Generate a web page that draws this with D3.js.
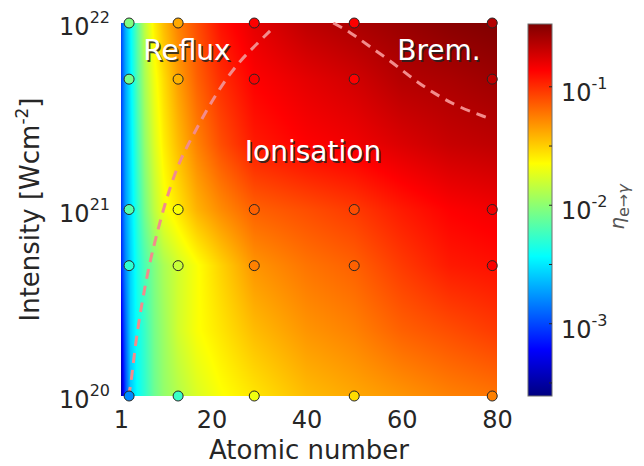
<!DOCTYPE html>
<html>
<head>
<meta charset="utf-8">
<script src="https://d3js.org/d3.v7.min.js"></script>
<style>
  body { margin: 0; background: #fff; }
  svg { display: block; font-family: "DejaVu Sans", sans-serif; }
</style>
</head>
<body>
<div id="chart"></div>
<script>
// Grid nodes of the background map (atomic number, log10 intensity)
const fieldZ = [1, 1.5, 2, 3, 4.5, 6, 8, 10, 13, 17, 22, 29, 40, 50, 60, 70, 80];
const fieldLogI = [20, 20.35, 20.7, 21, 21.35, 21.7, 22];

// log10(eta) of the background map, one row per intensity node
const field_20_00 = [-3.52, -3.22, -2.98, -2.61, -2.42, -2.29, -2.10, -1.98, -1.88, -1.76, -1.66, -1.57, -1.44, -1.38, -1.32, -1.26, -1.22];
const field_20_35 = [-3.33, -3.08, -2.89, -2.57, -2.39, -2.26, -2.07, -1.95, -1.79, -1.66, -1.57, -1.44, -1.32, -1.26, -1.16, -1.10, -1.04];
const field_20_70 = [-3.14, -2.95, -2.79, -2.57, -2.35, -2.20, -2.04, -1.91, -1.79, -1.66, -1.51, -1.32, -1.22, -1.16, -1.04, -0.94, -0.91];
const field_21_00 = [-3.08, -2.89, -2.73, -2.54, -2.29, -2.07, -1.85, -1.69, -1.57, -1.41, -1.29, -1.16, -1.10, -1.04, -0.94, -0.86, -0.82];
const field_21_35 = [-3.04, -2.86, -2.71, -2.51, -2.23, -1.98, -1.76, -1.60, -1.44, -1.26, -1.10, -0.94, -0.86, -0.82, -0.75, -0.69, -0.66];
const field_21_70 = [-3.04, -2.86, -2.70, -2.48, -2.17, -1.91, -1.69, -1.54, -1.35, -1.16, -1.00, -0.86, -0.78, -0.72, -0.63, -0.60, -0.56];
const field_22_00 = [-3.01, -2.83, -2.67, -2.45, -2.13, -1.85, -1.60, -1.44, -1.26, -1.10, -0.91, -0.78, -0.66, -0.60, -0.55, -0.50, -0.47];
const fieldRows = [field_20_00, field_20_35, field_20_70, field_21_00, field_21_35, field_21_70, field_22_00];

// Simulated points: log10(eta) per intensity row
const pointZ = [2.7, 13, 29, 50, 79];
const pointI = [1e20, 5e20, 1e21, 5e21, 1e22];
const point_1e20 = [-2.79, -2.26, -1.69, -1.54, -1.26];
const point_5e20 = [-2.29, -1.82, -1.26, -1.16, -0.85];
const point_1e21 = [-2.17, -1.66, -1.16, -1.10, -0.82];
const point_5e21 = [-2.07, -1.41, -0.85, -0.86, -0.66];
const point_1e22 = [-2.04, -1.38, -0.86, -0.86, -0.63];
const pointRows = [point_1e20, point_5e20, point_1e21, point_5e21, point_1e22];

// Regime boundaries (atomic number, log10 intensity)
const refluxZ = [2.32, 2.95, 4.0, 5.41, 6.74, 8.21, 10.31, 12.41, 14.1, 15.98, 19.13, 22.5, 26.07, 29.64, 32.8];
const refluxLogI = [20.0, 20.02, 20.28, 20.50, 20.68, 20.84, 21.04, 21.20, 21.30, 21.39, 21.54, 21.68, 21.80, 21.89, 21.97];
const bremZ = [45.6, 49.2, 52.9, 58.0, 62.8, 67.0, 71.8, 78.2];
const bremLogI = [22.0, 21.95, 21.88, 21.79, 21.69, 21.62, 21.55, 21.49];

const xTicks = [1, 20, 40, 60, 80];
const yTicks = [20, 21, 22];
const cbarTicks = [-3.5, -3, -2.5, -2, -1.5, -1];
const cbarLabels = [-3, -2, -1];
const etaRange = [-3.61, -0.47];

const W = 644, H = 466;
const plot = { left: 121, right: 497, top: 23, bottom: 396 };
const cbar = { left: 528, right: 552, top: 24, bottom: 396 };

const x = d3.scaleLinear().domain([1, 80]).range([plot.left, plot.right]);
const y = d3.scaleLinear().domain([20, 22]).range([plot.bottom, plot.top]);
const cbarY = d3.scaleLinear().domain(etaRange).range([cbar.bottom, cbar.top]);

// MATLAB jet
const jetStops = [0, 0.125, 0.375, 0.625, 0.875, 1];
const jetColors = ["#000080", "#0000ff", "#00ffff", "#ffff00", "#ff0000", "#800000"];
const jet = d3.scaleLinear().domain(jetStops).range(jetColors).interpolate(d3.interpolateRgb).clamp(true);
const toFrac = d3.scaleLinear().domain(etaRange).range([0, 1]).clamp(true);
const color = v => jet(toFrac(v));

function fieldAt(z, li) {
    const i = Math.max(0, Math.min(fieldZ.length - 2, d3.bisectRight(fieldZ, z) - 1));
    const j = Math.max(0, Math.min(fieldLogI.length - 2, d3.bisectRight(fieldLogI, li) - 1));
    const tz = Math.max(0, Math.min(1, (z - fieldZ[i]) / (fieldZ[i + 1] - fieldZ[i])));
    const tl = Math.max(0, Math.min(1, (li - fieldLogI[j]) / (fieldLogI[j + 1] - fieldLogI[j])));
    const a = fieldRows[j][i] * (1 - tz) + fieldRows[j][i + 1] * tz;
    const b = fieldRows[j + 1][i] * (1 - tz) + fieldRows[j + 1][i + 1] * tz;
    return a * (1 - tl) + b * tl;
}

const svg = d3.select("#chart").append("svg")
    .attr("width", W)
    .attr("height", H);

// Background map rendered to a canvas, placed as an image
const pw = plot.right - plot.left, ph = plot.bottom - plot.top;
const canvas = document.createElement("canvas");
canvas.width = pw;
canvas.height = ph;
const ctx = canvas.getContext("2d");
const img = ctx.createImageData(pw, ph);
for (let py = 0; py < ph; py++) {
    const li = y.invert(plot.top + py + 0.5);
    for (let px = 0; px < pw; px++) {
        const z = x.invert(plot.left + px + 0.5);
        const c = d3.rgb(color(fieldAt(z, li)));
        const k = (py * pw + px) * 4;
        img.data[k] = c.r;
        img.data[k + 1] = c.g;
        img.data[k + 2] = c.b;
        img.data[k + 3] = 255;
    }
}
ctx.putImageData(img, 0, 0);
svg.append("image")
    .attr("x", plot.left)
    .attr("y", plot.top)
    .attr("width", pw)
    .attr("height", ph)
    .attr("preserveAspectRatio", "none")
    .attr("href", canvas.toDataURL());

// Regime boundaries
const line = d3.line().x(d => x(d[0])).y(d => y(d[1])).curve(d3.curveBasis);
[[refluxZ, refluxLogI], [bremZ, bremLogI]].forEach(([zs, ls]) => {
    svg.append("path")
        .attr("d", line(zs.map((z, i) => [z, ls[i]])))
        .attr("fill", "none")
        .attr("stroke", "#f28c8c")
        .attr("stroke-width", 3)
        .attr("stroke-dasharray", "10,7");
});

// Regime labels with a drop shadow
const regions = [
    { text: "Reflux", x: 187, y: 60 },
    { text: "Brem.", x: 439, y: 60 },
    { text: "Ionisation", x: 313, y: 161 }
];
regions.forEach(r => {
    svg.append("text")
        .attr("x", r.x + 1.5).attr("y", r.y + 1.5)
        .attr("text-anchor", "middle")
        .attr("font-size", 28)
        .attr("fill", "#222").attr("opacity", 0.85)
        .text(r.text);
    svg.append("text")
        .attr("x", r.x).attr("y", r.y)
        .attr("text-anchor", "middle")
        .attr("font-size", 28)
        .attr("fill", "#fff")
        .text(r.text);
});

// Points
const points = [];
pointRows.forEach((row, j) => row.forEach((v, i) => points.push({ z: pointZ[i], li: Math.log10(pointI[j]), v })));
svg.append("g").selectAll("circle")
    .data(points)
    .enter()
    .append("circle")
    .attr("cx", d => x(d.z))
    .attr("cy", d => y(d.li))
    .attr("r", 5)
    .attr("fill", d => color(d.v))
    .attr("stroke", "#262626")
    .attr("stroke-width", 1);

// X axis
const tickColor = "#262626";
const xAxis = svg.append("g").attr("transform", `translate(0,${plot.bottom})`)
    .call(d3.axisBottom(x).tickValues(xTicks).tickSize(0).tickPadding(0).tickFormat(d3.format("d")));
xAxis.select(".domain").remove();
xAxis.selectAll("text")
    .attr("y", 32).attr("dy", null)
    .attr("font-size", 24)
    .attr("font-family", "DejaVu Sans")
    .attr("fill", tickColor);

svg.append("text")
    .attr("x", (plot.left + plot.right) / 2)
    .attr("y", 459)
    .attr("text-anchor", "middle")
    .attr("font-size", 26)
    .attr("fill", tickColor)
    .text("Atomic number");

// Y axis, power-of-ten labels
function powerLabel(g, base, exp) {
    g.append("tspan").text(base);
    g.append("tspan").attr("font-size", 16).attr("dy", -12).text(exp);
}
const yAxis = svg.append("g");
yTicks.forEach(t => {
    const txt = yAxis.append("text")
        .attr("x", 110)
        .attr("y", y(t) + 12)
        .attr("text-anchor", "end")
        .attr("font-size", 24)
        .attr("fill", tickColor);
    powerLabel(txt, "10", String(t));
});

const yLabel = svg.append("text")
    .attr("transform", `translate(39,${(plot.top + plot.bottom) / 2}) rotate(-90)`)
    .attr("text-anchor", "middle")
    .attr("font-size", 26)
    .attr("fill", tickColor);
yLabel.append("tspan").text("Intensity [Wcm");
yLabel.append("tspan").attr("font-size", 17).attr("dy", -11).text("-2");
yLabel.append("tspan").attr("dy", 11).text("]");

// Colorbar
const grad = svg.append("defs").append("linearGradient")
    .attr("id", "jet").attr("x1", 0).attr("x2", 0).attr("y1", 1).attr("y2", 0);
jetStops.forEach((s, i) => grad.append("stop").attr("offset", s).attr("stop-color", jetColors[i]));
svg.append("rect")
    .attr("x", cbar.left).attr("y", cbar.top)
    .attr("width", cbar.right - cbar.left).attr("height", cbar.bottom - cbar.top)
    .attr("fill", "url(#jet)")
    .attr("stroke", "#6e6e6e").attr("stroke-width", 1);
svg.append("g").selectAll("line")
    .data(cbarTicks)
    .enter()
    .append("line")
    .attr("x1", cbar.right - 3).attr("x2", cbar.right)
    .attr("y1", d => cbarY(d)).attr("y2", d => cbarY(d))
    .attr("stroke", "#262626").attr("stroke-width", 1);
cbarLabels.forEach(t => {
    const txt = svg.append("text")
        .attr("x", 561)
        .attr("y", cbarY(t) + 14)
        .attr("font-size", 24)
        .attr("fill", tickColor);
    powerLabel(txt, "10", String(t));
});

const cLabel = svg.append("text")
    .attr("transform", "translate(624,207) rotate(-90)")
    .attr("text-anchor", "middle")
    .attr("fill", "#555")
    .attr("font-size", 20);
cLabel.append("tspan").attr("font-style", "italic").text("η");
cLabel.append("tspan").attr("font-size", 16).attr("dy", 5).text("e→");
cLabel.append("tspan").attr("font-size", 16).attr("font-style", "italic").text("γ");
</script>
</body>
</html>
